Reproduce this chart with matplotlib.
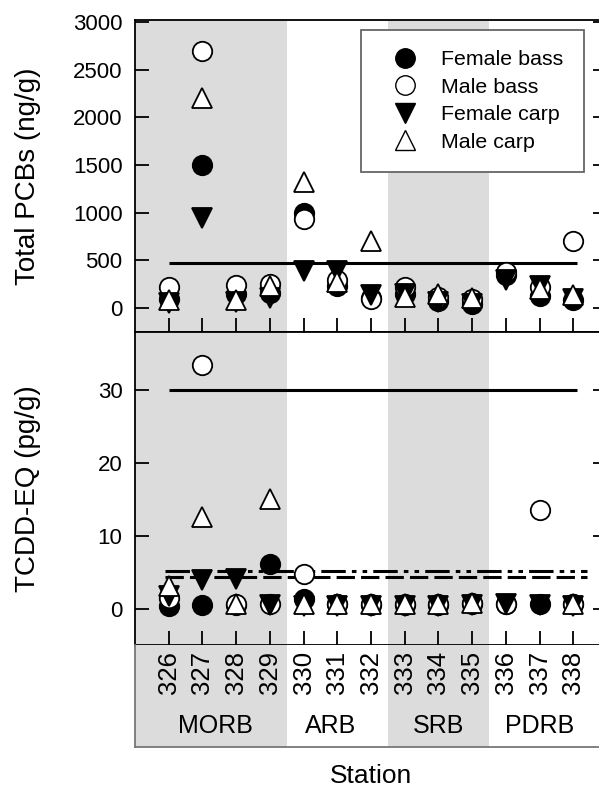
import numpy as np
import matplotlib
matplotlib.use('Agg')
import matplotlib.pyplot as plt
from matplotlib.lines import Line2D

plt.rcParams['font.family'] = ['Liberation Sans', 'DejaVu Sans']

nan = np.nan
stations = list(range(326, 339))
regions = ['MORB', 'ARB', 'SRB', 'PDRB']
region_bounds = [(325, 329.5), (329.5, 332.5), (332.5, 335.5), (335.5, 339)]
region_centers = [327.4, 330.8, 334.0, 337.0]
shaded = [True, False, True, False]

# Total PCBs (ng/g)
pcb_female_bass = [100, 1500, 150, 160, 1000, 230, 110, 150, 80, 40, 350, 130, 90]
pcb_male_bass = [220, 2700, 240, 258, 930, 300, 100, 223, 120, 95, 380, 220, 700]
pcb_female_carp = [50, 950, 60, 110, 390, 390, 140, 150, 60, 45, 300, 230, 100]
pcb_male_carp = [90, 2200, 90, 230, 1320, 270, 700, 120, 150, 110, nan, 200, 140]
pcb_limit = 475

# TCDD-EQ (pg/g)
tcdd_female_bass = [0.4, 0.5, 0.5, 6.1, 1.3, 0.6, 0.5, 0.5, 0.5, 0.7, 0.6, 0.7, 0.6]
tcdd_male_bass = [1.5, 33.5, 0.7, 0.6, 4.7, 0.6, 0.6, 0.6, 0.7, 0.8, 0.6, 13.6, 0.7]
tcdd_female_carp = [1.8, 3.9, 4.0, 0.5, 0.4, 0.4, 0.4, 0.4, 0.4, 0.5, 0.6, 0.5, 0.4]
tcdd_male_carp = [3.1, 12.6, 0.7, 15.1, 0.6, 0.6, 0.6, 0.6, 0.7, 0.8, nan, nan, 0.7]
tcdd_limit = 30
tcdd_lim_dashdot = 5.2
tcdd_lim_dash = 4.3

shade_col = '#dcdcdc'
ms = 14

fig = plt.figure(figsize=(5.99, 7.90), dpi=100)
W = 599.0
H = 790.0
left = 135 / W
width = 472 / W
ax1 = fig.add_axes([left, 1 - 332 / H, width, 312 / H])
ax2 = fig.add_axes([left, 1 - 645 / H, width, 313 / H])
ax3 = fig.add_axes([left, 1 - 747 / H, width, 102 / H])

for ax in (ax1, ax2, ax3):
    ax.set_xlim(325, 339)
    for (a, b), s in zip(region_bounds, shaded):
        if s:
            ax.axvspan(a, b, color=shade_col, lw=0, zorder=0)
    for sp in ax.spines.values():
        sp.set_linewidth(1.3)


def draw_series(ax, fb, mb, fc, mc):
    ax.plot(stations, fb, 'o', ms=ms, mfc='black', mec='black', mew=1.3, zorder=3)
    ax.plot(stations, mb, 'o', ms=ms, mfc='white', mec='black', mew=1.3, zorder=3)
    ax.plot(stations, fc, 'v', ms=ms, mfc='black', mec='black', mew=1.3, zorder=3)
    ax.plot(stations, mc, '^', ms=ms, mfc='white', mec='black', mew=1.3, zorder=3)


# top panel
draw_series(ax1, pcb_female_bass, pcb_male_bass, pcb_female_carp, pcb_male_carp)
ax1.hlines(pcb_limit, 326, 338.1, color='black', lw=2.2, zorder=2)
ax1.set_ylim(-250, 3020)
ax1.set_yticks(range(0, 3001, 500))
ax1.set_xticks(stations)
ax1.tick_params(axis='y', which='both', direction='in', length=10, width=1.3,
                right=True, labelsize=16, pad=9)
ax1.tick_params(axis='x', direction='in', length=10, width=1.3, labelbottom=False)
ax1.set_ylabel('Total PCBs (ng/g)', fontsize=20)
ax1.yaxis.set_label_coords(-0.2, 0.5)

handles = [
    Line2D([], [], marker='o', ls='none', ms=ms, mfc='black', mec='black'),
    Line2D([], [], marker='o', ls='none', ms=ms, mfc='white', mec='black'),
    Line2D([], [], marker='v', ls='none', ms=ms, mfc='black', mec='black'),
    Line2D([], [], marker='^', ls='none', ms=ms, mfc='white', mec='black'),
]
leg = ax1.legend(handles, ['Female bass', 'Male bass', 'Female carp', 'Male carp'],
                 loc='upper left', bbox_to_anchor=((361 - 135) / 472, 1 - 10 / 312),
                 fontsize=15.4, frameon=True, fancybox=False, framealpha=1,
                 edgecolor='#666666', handlelength=2.2, handletextpad=0.6,
                 labelspacing=0.4, borderpad=0.95, borderaxespad=0)
leg.get_frame().set_linewidth(1.3)

# bottom panel
draw_series(ax2, tcdd_female_bass, tcdd_male_bass, tcdd_female_carp, tcdd_male_carp)
ax2.hlines(tcdd_limit, 326, 338.1, color='black', lw=2.2, zorder=2)
ax2.hlines(tcdd_lim_dashdot, 325.9, 338.4, color='black', lw=2.2, zorder=2,
           linestyles=[(0, (8, 2, 1.5, 2, 1.5, 2))])
ax2.hlines(tcdd_lim_dash, 325.9, 338.4, color='black', lw=2.2, zorder=2,
           linestyles=[(0, (6, 2))])
ax2.set_ylim(-5, 38)
ax2.set_yticks([0, 10, 20, 30])
ax2.set_xticks(stations)
ax2.tick_params(axis='y', direction='in', length=10, width=1.3, right=True,
                labelsize=16, pad=9)
ax2.tick_params(axis='x', direction='in', length=10, width=1.3, labelbottom=False)
ax2.set_ylabel('TCDD-EQ (pg/g)', fontsize=20)
ax2.yaxis.set_label_coords(-0.2, 0.5)

# station / region strip
ax3.set_ylim(0, 1)
ax3.set_xticks([])
ax3.set_yticks([])
for sp in ax3.spines.values():
    sp.set_color('#777777')
ax3.spines['top'].set_visible(False)
for s in stations:
    ax3.text(s, 0.94, str(s), rotation=90, ha='center', va='top', fontsize=18.5)
for name, xc in zip(regions, region_centers):
    ax3.text(xc, 0.21, name, ha='center', va='center', fontsize=18)
ax3.set_xlabel('Station', fontsize=19, labelpad=12)

fig.savefig('out.png', dpi=100)
